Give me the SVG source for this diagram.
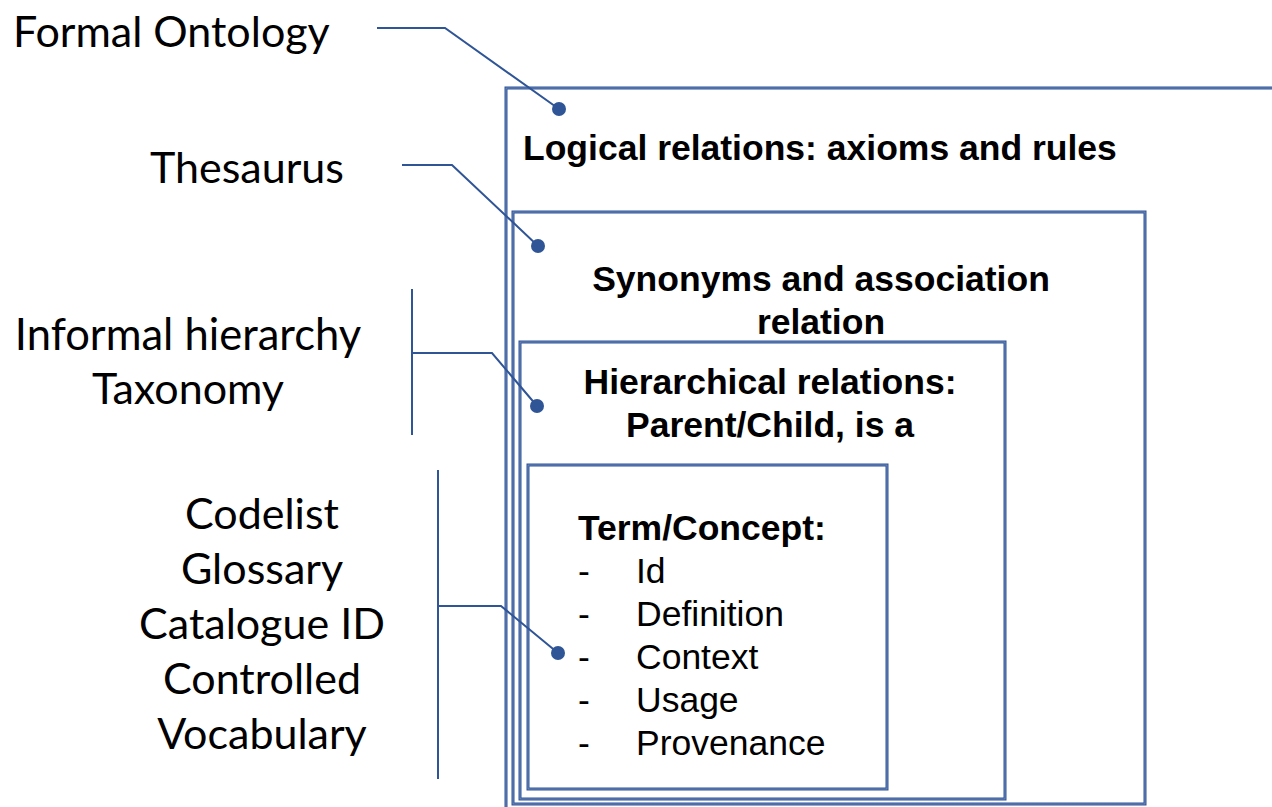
<svg xmlns="http://www.w3.org/2000/svg" width="1272" height="807" viewBox="0 0 1272 807">
<style>
.bx{fill:none;stroke:#2f5597;stroke-width:3}
.bxi{fill:none;stroke:#7d95c8;stroke-width:0.8}
.ln{fill:none;stroke:#2f5597;stroke-width:2}
.dot{fill:#2f5597}
.lt{font-family:Lato,"Open Sans",sans-serif;font-size:43px;fill:#000}
.bt{font-family:"Liberation Sans",Arial,sans-serif;font-size:35.5px;font-weight:bold;fill:#000}
.rt{font-family:"Liberation Sans",Arial,sans-serif;font-size:35.5px;fill:#000}
</style>
<rect width="1272" height="807" fill="#fff"/>
<g id="box-ontology">
<rect class="bx" x="506" y="88" width="800" height="800"/>
<rect class="bxi" x="506" y="88" width="800" height="800"/>
<text class="bt" x="523" y="160">Logical relations: axioms and rules</text>
</g>
<g id="box-thesaurus">
<rect class="bx" x="513" y="212" width="632" height="592"/>
<rect class="bxi" x="513" y="212" width="632" height="592"/>
<text class="bt" x="821" y="291" text-anchor="middle">Synonyms and association</text>
<text class="bt" x="821" y="334" text-anchor="middle">relation</text>
</g>
<g id="box-taxonomy">
<rect class="bx" x="520" y="342" width="485" height="457"/>
<rect class="bxi" x="520" y="342" width="485" height="457"/>
<text class="bt" x="770" y="394" text-anchor="middle">Hierarchical relations:</text>
<text class="bt" x="770" y="437" text-anchor="middle">Parent/Child, is a</text>
</g>
<g id="box-term">
<rect class="bx" x="528" y="465" width="359" height="324"/>
<rect class="bxi" x="528" y="465" width="359" height="324"/>
<text class="bt" x="578" y="540">Term/Concept:</text>
<text class="rt" x="578" y="583">-</text><text class="rt" x="636" y="583">Id</text>
<text class="rt" x="578" y="626">-</text><text class="rt" x="636" y="626">Definition</text>
<text class="rt" x="578" y="669">-</text><text class="rt" x="636" y="669">Context</text>
<text class="rt" x="578" y="712">-</text><text class="rt" x="636" y="712">Usage</text>
<text class="rt" x="578" y="755">-</text><text class="rt" x="636" y="755">Provenance</text>
</g>
<g id="label-formal">
<text class="lt" x="13" y="47">Formal Ontology</text>
</g>
<g id="label-thesaurus">
<text class="lt" x="150" y="183">Thesaurus</text>
</g>
<g id="label-taxonomy">
<text class="lt" x="188" y="350" text-anchor="middle" style="font-size:43.5px">Informal hierarchy</text>
<text class="lt" x="188" y="404" text-anchor="middle">Taxonomy</text>
</g>
<g id="label-codelist">
<text class="lt" x="262" y="529" text-anchor="middle">Codelist</text>
<text class="lt" x="262" y="584" text-anchor="middle">Glossary</text>
<text class="lt" x="262" y="639" text-anchor="middle">Catalogue ID</text>
<text class="lt" x="262" y="694" text-anchor="middle">Controlled</text>
<text class="lt" x="262" y="749" text-anchor="middle">Vocabulary</text>
</g>
<g id="connectors">
<path class="ln" d="M377,28 H445 L559,109"/>
<circle class="dot" cx="559" cy="109" r="7"/>
<path class="ln" d="M402,165 H452 L538,246"/>
<circle class="dot" cx="538" cy="246" r="7"/>
<path class="ln" d="M412,289 V435 M412,353 H492 L537,406"/>
<circle class="dot" cx="537" cy="406" r="7"/>
<path class="ln" d="M438,470 V779 M438,606 H501 L558,653"/>
<circle class="dot" cx="558" cy="653" r="7"/>
</g>
</svg>
